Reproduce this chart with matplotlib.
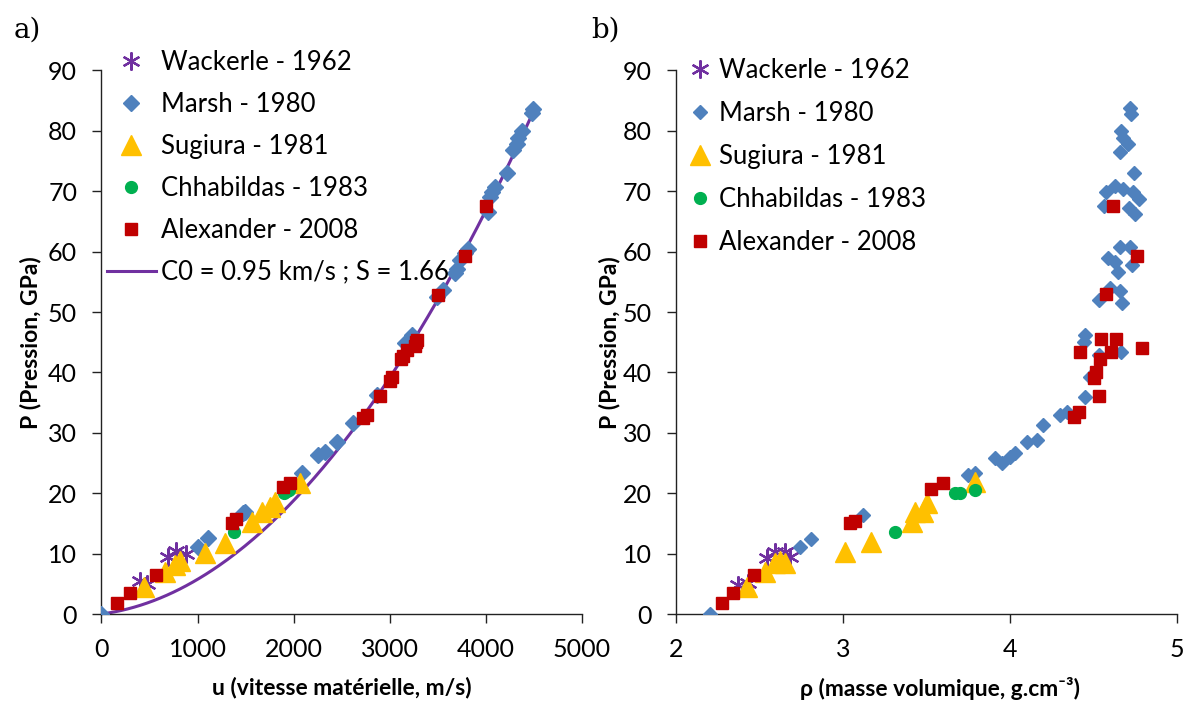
import numpy as np
import matplotlib
matplotlib.use('Agg')
import matplotlib.pyplot as plt

plt.rcParams['font.family'] = ['Lato', 'DejaVu Sans']

#--------------------------------------------------------------------------------------------------------
# Hugoniot de la silice : P = rho0 * (C0 + S*u) * u
rho0 = 2.2      # g/cm3
C0 = 0.95       # km/s
S = 1.66
u_max = 4500    # m/s

# Wackerle - 1962
wackerle_u = [400, 470, 690, 780, 880]
wackerle_p_u = [5.4, 5.0, 9.5, 10.5, 9.9]
wackerle_rho = [2.373, 2.433, 2.543, 2.593, 2.653, 2.683]
wackerle_p_rho = [4.8, 5.1, 9.2, 10.3, 10.3, 9.5]

# Marsh - 1980
marsh_u = [0, 1007, 1108, 1472, 1493, 2083, 2256, 2326, 2447, 2620, 2864, 3158, 3228, 3488,
           3557, 3678, 3696, 3730, 3783, 3817, 4025, 4043, 4060, 4095, 4216, 4285, 4320,
           4337, 4373, 4477, 4493]
marsh_p_u = [0, 11.1, 12.6, 16.7, 16.9, 23.3, 26.3, 26.9, 28.5, 31.6, 36.3, 44.8, 46.2, 52.5,
             53.6, 56.4, 57.2, 58.6, 59.7, 60.5, 66.6, 69.1, 69.9, 70.7, 73.1, 76.8, 77.9,
             78.8, 79.9, 82.9, 83.6]
marsh_rho = [2.204, 2.743, 2.81, 3.12, 3.75, 3.79, 3.91, 3.95, 4.0, 4.03, 4.10, 4.16, 4.195,
             4.30, 4.34, 4.45, 4.479, 4.53, 4.663, 4.449, 4.44, 4.53, 4.67, 4.60, 4.66, 4.645,
             4.73, 4.589, 4.629, 4.66, 4.72, 4.56, 4.71, 4.75, 4.774, 4.575, 4.629, 4.679,
             4.735, 4.74, 4.657, 4.666, 4.676, 4.706, 4.719, 4.725]
marsh_p_rho = [0, 11.1, 12.4, 16.4, 23.0, 23.4, 25.8, 25.0, 26.0, 26.6, 28.4, 28.8, 31.3,
               32.9, 33.5, 36.0, 39.3, 42.9, 43.3, 46.2, 45.1, 52.0, 51.5, 53.9, 53.4, 56.7,
               57.8, 58.9, 58.3, 60.8, 60.8, 67.5, 67.2, 66.3, 68.7, 69.8, 70.8, 70.3,
               69.9, 73.1, 76.5, 79.9, 78.8, 77.9, 83.7, 82.8]

# Sugiura - 1981
sugiura_u = [445, 661, 765, 817, 1077, 1285, 1563, 1667, 1753, 1805, 2066]
sugiura_p_u = [4.5, 7.0, 8.1, 8.7, 10.1, 11.8, 15.3, 16.9, 17.8, 18.6, 21.7]
sugiura_rho = [2.423, 2.533, 2.593, 2.623, 2.653, 3.012, 3.17, 3.41, 3.43, 3.48, 3.50, 3.79]
sugiura_p_rho = [4.5, 7.0, 8.4, 8.7, 8.4, 10.3, 12.0, 15.3, 16.9, 16.9, 18.3, 21.9]

# Chhabildas - 1983
chhabildas_u = [1382, 1902, 1930, 1950]
chhabildas_p_u = [13.6, 20.0, 20.4, 20.6]
chhabildas_rho = [3.31, 3.67, 3.70, 3.79]
chhabildas_p_rho = [13.5, 20.0, 20.0, 20.5]

# Alexander - 2008
alexander_u = [164, 297, 564, 1355, 1400, 1892, 1962, 2721, 2760, 2898, 3000, 3020, 3120,
               3140, 3176, 3262, 3270, 3280, 3505, 3783, 4001]
alexander_p_u = [1.9, 3.4, 6.5, 15.1, 15.8, 21.1, 21.7, 32.4, 33.0, 36.1, 38.6, 39.2, 42.2,
                 42.8, 43.7, 44.3, 45.0, 45.4, 52.8, 59.2, 67.6]
alexander_rho = [2.277, 2.34, 2.469, 3.042, 3.072, 3.527, 3.60, 4.383, 4.415, 4.533, 4.50,
                 4.515, 4.539, 4.419, 4.605, 4.789, 4.543, 4.633, 4.575, 4.759, 4.618]
alexander_p_rho = [1.9, 3.4, 6.5, 15.1, 15.4, 20.7, 21.7, 32.6, 33.4, 36.1, 39.0, 40.0,
                   42.2, 43.4, 43.4, 44.0, 45.5, 45.5, 53.0, 59.2, 67.5]

#--------------------------------------------------------------------------------------------------------

violet = '#7030A0'
bleu = '#4F81BD'
jaune = '#FFC000'
vert = '#00B050'
rouge = '#C00000'

fig = plt.figure(figsize=(11.91, 7.10), dpi=100)
axA = fig.add_axes([0.0852, 0.1352, 0.4034, 0.7656])
axB = fig.add_axes([0.5676, 0.1352, 0.4207, 0.7656])


def styleAxes(ax):
    for side in ['top', 'right']:
        ax.spines[side].set_visible(False)
    for side in ['left', 'bottom']:
        ax.spines[side].set_color('#222222')
        ax.spines[side].set_linewidth(1.0)
    ax.tick_params(direction='out', length=6.5, width=1.0, color='#222222',
                   labelsize=18, pad=11)
    ax.set_ylim(0, 90)
    ax.set_yticks(np.arange(0, 91, 10))
    ax.set_ylabel('P (Pression, GPa)', fontsize=16.5, fontweight='bold')


def plotSeries(ax, small):
    ds = 7.0 if small else 8.5
    ax.plot(wackerle_x[ax], wackerle_y[ax], ls='none', marker=(6, 2, 0), ms=13, mew=1.6,
            color=violet, label='Wackerle - 1962', zorder=3)
    ax.plot(marsh_x[ax], marsh_y[ax], ls='none', marker='D', ms=ds, color=bleu,
            mec=bleu, label='Marsh - 1980', zorder=4)
    ax.plot(sugiura_x[ax], sugiura_y[ax], ls='none', marker='^', ms=14, color=jaune,
            mec=jaune, label='Sugiura - 1981', zorder=5)
    ax.plot(chhabildas_x[ax], chhabildas_y[ax], ls='none', marker='o', ms=8.5, color=vert,
            mec=vert, label='Chhabildas - 1983', zorder=5)
    ax.plot(alexander_x[ax], alexander_y[ax], ls='none', marker='s', ms=8.5, color=rouge,
            mec=rouge, label='Alexander - 2008', zorder=6)


wackerle_x = {axA: wackerle_u, axB: wackerle_rho}
wackerle_y = {axA: wackerle_p_u, axB: wackerle_p_rho}
marsh_x = {axA: marsh_u, axB: marsh_rho}
marsh_y = {axA: marsh_p_u, axB: marsh_p_rho}
sugiura_x = {axA: sugiura_u, axB: sugiura_rho}
sugiura_y = {axA: sugiura_p_u, axB: sugiura_p_rho}
chhabildas_x = {axA: chhabildas_u, axB: chhabildas_rho}
chhabildas_y = {axA: chhabildas_p_u, axB: chhabildas_p_rho}
alexander_x = {axA: alexander_u, axB: alexander_rho}
alexander_y = {axA: alexander_p_u, axB: alexander_p_rho}

# a) pression en fonction de la vitesse materielle
uFit = np.linspace(0, u_max, 200)
pFit = rho0 * (C0 + S * uFit / 1000) * uFit / 1000
plotSeries(axA, small=False)
axA.plot(uFit, pFit, color=violet, lw=2.2, zorder=2,
         label='C0 = %.2f km/s ; S = %.2f' % (C0, S))
styleAxes(axA)
axA.set_xlim(0, 5000)
axA.set_xticks(np.arange(0, 5001, 1000))
axA.set_xlabel('u (vitesse matérielle, m/s)', fontsize=16.5, fontweight='bold')
axA.xaxis.set_label_coords(0.5, -0.116)
axA.yaxis.set_label_coords(-0.125, 0.5)
axA.legend(loc='upper left', bbox_to_anchor=(0.0898, 0.929), bbox_transform=fig.transFigure,
           frameon=False, fontsize=18.5, handlelength=1.9, handletextpad=0.2,
           labelspacing=0.655, borderpad=0, borderaxespad=0)

# b) pression en fonction de la masse volumique
plotSeries(axB, small=True)
styleAxes(axB)
axB.set_xlim(2, 5)
axB.set_xticks([2, 3, 4, 5])
axB.set_xlabel('ρ (masse volumique, g.cm⁻³)', fontsize=16.5, fontweight='bold')
axB.xaxis.set_label_coords(0.527, -0.116)
axB.yaxis.set_label_coords(-0.112, 0.5)
axB.legend(loc='upper left', bbox_to_anchor=(0.5777, 0.918), bbox_transform=fig.transFigure,
           frameon=False, fontsize=18.5, handlelength=0.95, handletextpad=0.25,
           labelspacing=0.70, borderpad=0, borderaxespad=0)

fig.text(27 / 1191, 1 - 30 / 710, 'a)', family='DejaVu Serif', fontsize=20,
         ha='center', va='center')
fig.text(605 / 1191, 1 - 30 / 710, 'b)', family='DejaVu Serif', fontsize=20,
         ha='center', va='center')

fig.savefig('out.png', dpi=100)
